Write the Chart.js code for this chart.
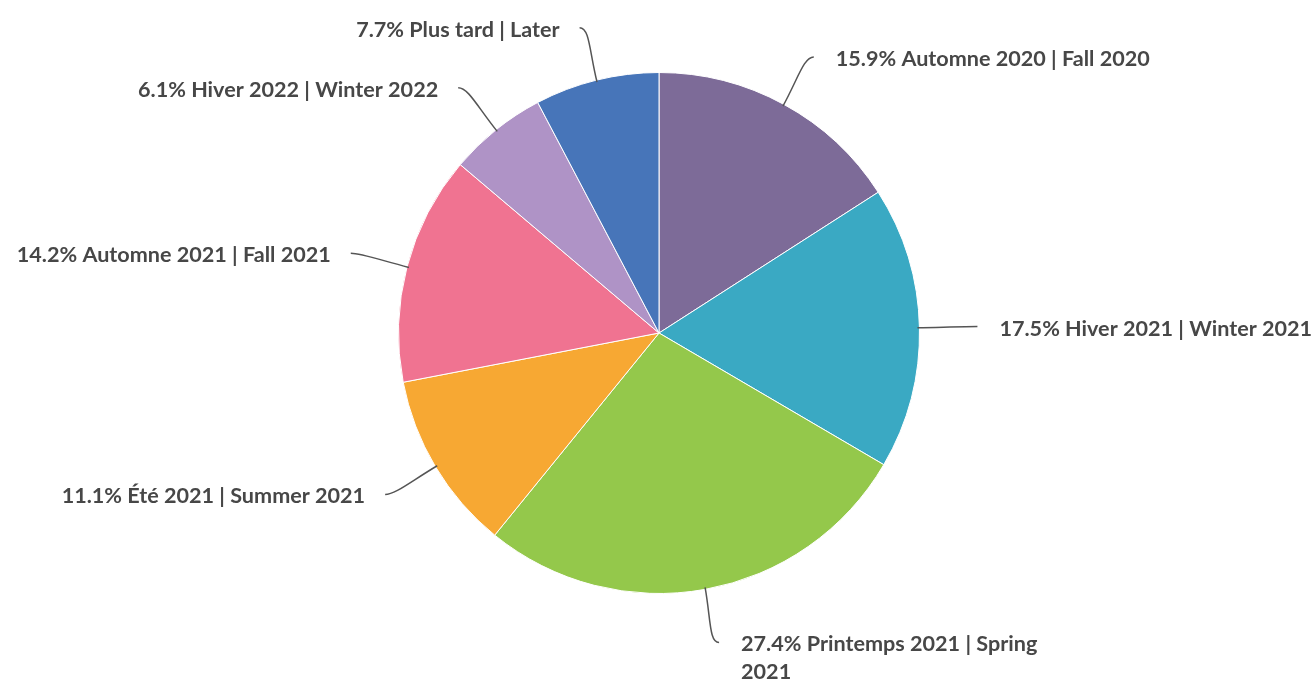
<!DOCTYPE html>
<html>
<head>
<meta charset="utf-8">
<script src="https://cdn.jsdelivr.net/npm/chart.js@4.4.1/dist/chart.umd.min.js"></script>
<style>
  html, body { margin: 0; padding: 0; background: #fff; }
  #wrap { width: 1316px; height: 680px; }
</style>
</head>
<body>
<div id="wrap"><canvas id="terms_chart"></canvas></div>
<script>
const terms = [
    'Automne 2020 | Fall 2020',
    'Hiver 2021 | Winter 2021',
    'Printemps 2021 | Spring 2021',
    'Été 2021 | Summer 2021',
    'Automne 2021 | Fall 2021',
    'Hiver 2022 | Winter 2022',
    'Plus tard | Later'
];
const shares = [15.9, 17.5, 27.4, 11.1, 14.2, 6.1, 7.7];
const colors = ['#7d6b98', '#3aa9c3', '#94c84b', '#f7a833', '#f07391', '#af93c6', '#4775b9'];

// draws highcharts-like data labels with curved connectors
const outsideLabels = {
    id: 'outsideLabels',
    afterDatasetsDraw(chart) {
        const ctx = chart.ctx;
        const meta = chart.getDatasetMeta(0);
        const fontSize = 21.6;
        const lineH = 28;
        const maxW = 340;
        ctx.save();
        ctx.font = 'bold ' + fontSize + 'px Lato, "Open Sans", sans-serif';
        ctx.textBaseline = 'middle';
        meta.data.forEach(function(arc, i) {
            const mid = (arc.startAngle + arc.endAngle) / 2;
            const r = arc.outerRadius;
            const dx = Math.cos(mid), dy = Math.sin(mid);
            const right = dx >= 0;
            const p0 = { x: arc.x + dx * (r - 2), y: arc.y + dy * (r - 2) };
            const c1 = { x: arc.x + dx * (r + 30), y: arc.y + dy * (r + 30) };
            const e = { x: arc.x + dx * (r + 54), y: arc.y + dy * (r + 54) };
            const end = { x: e.x + (right ? 4 : -4), y: e.y };

            ctx.strokeStyle = '#555';
            ctx.lineWidth = 1.5;
            ctx.beginPath();
            ctx.moveTo(p0.x, p0.y);
            ctx.bezierCurveTo(c1.x, c1.y, e.x + (right ? -6 : 6), e.y, end.x, end.y);
            ctx.stroke();

            // wrap text
            const text = shares[i] + '% ' + terms[i];
            const words = text.split(' ');
            const lines = [];
            let cur = '';
            words.forEach(function(w) {
                const test = cur ? cur + ' ' + w : w;
                if (ctx.measureText(test).width > maxW && cur) {
                    lines.push(cur);
                    cur = w;
                } else {
                    cur = test;
                }
            });
            lines.push(cur);

            ctx.fillStyle = '#474747';
            ctx.textAlign = right ? 'left' : 'right';
            const tx = end.x + (right ? 22 : -20);
            lines.forEach(function(l, k) {
                ctx.fillText(l, tx, end.y + 2 + k * lineH);
            });
        });
        ctx.restore();
    }
};

var ctx = document.getElementById('terms_chart').getContext('2d');
var termsChart = new Chart(ctx, {
    type: 'pie',
    data: {
        labels: terms,
        datasets: [{
            data: shares,
            backgroundColor: colors,
            borderColor: '#ffffff',
            borderWidth: 1
        }]
    },
    options: {
        responsive: true,
        maintainAspectRatio: false,
        animation: false,
        layout: {
            padding: { top: 72, bottom: 86, left: 2, right: 0 }
        },
        plugins: {
            legend: { display: false },
            tooltip: { enabled: false },
            title: { display: false }
        }
    },
    plugins: [outsideLabels]
});
</script>
</body>
</html>
